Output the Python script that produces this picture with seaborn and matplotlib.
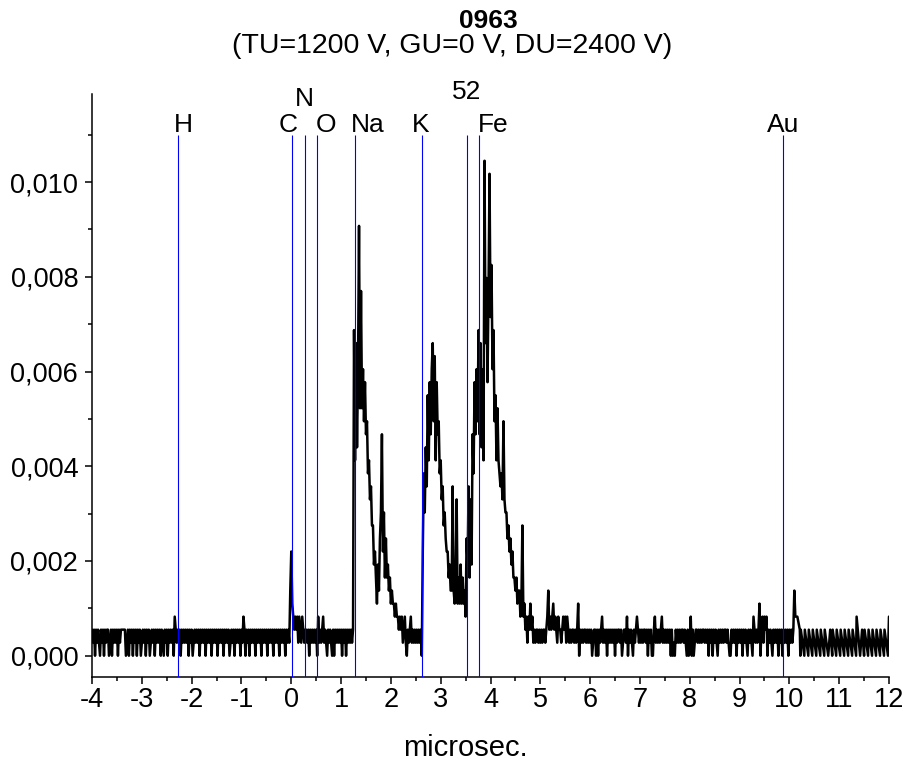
import numpy as np
import pandas as pd
import matplotlib
matplotlib.use("Agg")
import matplotlib.pyplot as plt
import seaborn as sns
from matplotlib.ticker import MultipleLocator, FuncFormatter

# ---- time-of-flight spectrum, sampled every 0.02 microseconds from -4.00 ----
T0 = -4.0
STEP = 0.02
COUNT = 0.000275          # intensity of one detector count

# flat region before the carbon line (digits = counts per bin)
pre_c = ("2120212102" "1202122012" "0212120212" "2222012021" "2021202120"
         "1212021201" "2120212120" "2102120212" "1203212120" "2121212021"
         "2012121202" "1212021212" "0212120212" "1202121201" "2120212120"
         "2132021202" "1212021212" "0212120212" "1202121202" "121202121")
c_peak = [5, 8, 4, 3, 2, 3, 2, 3, 1, 3, 2, 1, 3, 2, 1, 2]
c_to_na = "2120212121" "2031212312" "1021210202" "1212120212" "02121212"
na_peak = [25, 15, 24, 16, 22, 33, 19, 28, 19, 22,
           18, 21, 17, 18, 14, 15, 12, 13, 10, 10,
           7, 8, 6, 4, 7, 5, 9, 11, 17, 8,
           11, 6, 9, 6, 7, 5, 6, 4, 5, 4,
           4, 3, 4, 3, 3, 2, 3, 2, 3, 1,
           2, 3, 1, 0, 2, 1, 2, 3, 1, 2,
           1, 2, 1, 2, 1, 2, 1, 2, 0]
k_peak = [8, 14, 11, 16, 13, 20, 15, 21, 17, 22,
          24, 18, 23, 15, 21, 17, 18, 14, 15, 12,
          13, 10, 11, 9, 8, 8, 6, 7, 5, 5,
          13, 5, 4, 6, 12, 4, 6, 4, 7, 4,
          6, 4, 5, 3, 9, 7, 13]
fe_peak = [6, 12, 7, 17, 14, 21, 17, 22, 18, 25,
           17, 24, 16, 22, 15, 38, 24, 29, 21, 28,
           37, 26, 30, 22, 25, 18, 20, 15, 19, 15,
           14, 13, 14, 12, 18, 12, 11, 11, 9, 10,
           8, 9, 7, 8, 6, 6, 5, 6, 4, 5,
           5, 3, 4, 10, 3, 4, 2, 3, 1, 3,
           2, 4]
fe_tail = ("2312122121" "2122123523" "2342321322" "1232313212" "1221212402"
           "1212212121" "2012202021" "2312120212" "1212021221" "2012213021"
           "2102123212" "1212212021" "2002312121" "2312121212" "0201021212"
           "1221210201" "3020122121" "2122121202" "1202121021" "2121221210"
           "0212120212" "1202121021" "2103212124" "0231323021" "2102121202"
           "1202121202" "121253")

# last stretch after the gold line, recorded with uneven spacing
tail_t = [10.16, 10.21, 10.22, 10.23, 10.30, 10.31, 10.38, 10.39, 10.46, 10.47,
          10.54, 10.55, 10.62, 10.63, 10.70, 10.71, 10.78, 10.82, 10.86, 10.87,
          10.94, 10.95, 11.02, 11.03, 11.10, 11.11, 11.18, 11.19, 11.26, 11.27,
          11.34, 11.35, 11.42, 11.46, 11.50, 11.51, 11.58, 11.59, 11.66, 11.67,
          11.74, 11.75, 11.82, 11.83, 11.90, 11.91, 11.98, 12.00]
tail_counts = [3, 2, 0, 2, 0, 2, 0, 2, 0, 2,
               0, 2, 0, 2, 0, 2, 0, 2, 0, 2,
               0, 2, 0, 2, 0, 2, 0, 2, 0, 2,
               0, 3, 0, 2, 0, 2, 0, 2, 0, 2,
               0, 2, 0, 2, 0, 2, 0, 3]

# element marker lines (flight time, microseconds)
element_names = ["H", "C", "N", "O", "Na", "K", "52", "Fe", "Au"]
element_times = [-2.27, 0.02, 0.28, 0.52, 1.27, 2.62, 3.52, 3.77, 9.88]
element_label_x = [-2.17, -0.065, 0.257, 0.70, 1.54, 2.59, 3.53, 4.05, 9.87]
element_label_y = [0.01121, 0.01121, 0.01176, 0.01121, 0.01121, 0.01121,
                   0.01190, 0.01121, 0.01121]
marker_top = 0.011

x_ticks = list(range(-4, 13))
y_ticks = [0.000, 0.002, 0.004, 0.006, 0.008, 0.010]


def digits(s):
    return [int(c) for c in s]


uniform_counts = (digits(pre_c) + c_peak + digits(c_to_na) + na_peak
                  + k_peak + fe_peak + digits(fe_tail))
uniform_t = T0 + STEP * np.arange(len(uniform_counts))

spectrum = pd.DataFrame({
    "t": np.concatenate([uniform_t, tail_t]),
    "signal": np.array(uniform_counts + tail_counts) * COUNT,
})

sns.set_theme(style="ticks")
plt.rcParams["font.family"] = ["Liberation Sans", "DejaVu Sans"]
plt.rcParams["axes.unicode_minus"] = False
for key in ("text.color", "axes.labelcolor", "xtick.color", "ytick.color",
            "axes.edgecolor"):
    plt.rcParams[key] = "black"

fig = plt.figure(figsize=(9.05, 7.69), dpi=100)
ax = fig.add_axes([0.1017, 0.1196, 0.8806, 0.7582])

Y_MIN, Y_MAX = -0.00045, 0.01186

sns.lineplot(data=spectrum, x="t", y="signal", color="black", linewidth=1.8,
             estimator=None, sort=False, ax=ax)

ax.vlines(element_times, Y_MIN, marker_top, colors="#0000ff", linewidth=0.8,
          zorder=3)
for name, lx, ly in zip(element_names, element_label_x, element_label_y):
    ax.text(lx, ly, name, ha="center", va="center", fontsize=19,
            clip_on=False)

ax.set_xlim(-4, 12)
ax.set_ylim(Y_MIN, Y_MAX)
ax.set_xticks(x_ticks)
ax.set_yticks(y_ticks)
ax.xaxis.set_minor_locator(MultipleLocator(0.5))
ax.yaxis.set_minor_locator(MultipleLocator(0.001))
ax.yaxis.set_major_formatter(FuncFormatter(lambda v, _: f"{v:.3f}".replace(".", ",")))
ax.xaxis.set_major_formatter(FuncFormatter(lambda v, _: f"{int(round(v))}"))

ax.tick_params(axis="both", which="major", direction="out", length=5,
               width=1.1, labelsize=19.5)
ax.tick_params(axis="y", which="major", pad=5)
ax.tick_params(axis="x", which="major", pad=2)
ax.tick_params(axis="both", which="minor", direction="out", length=3,
               width=1.1)

for side in ("top", "right"):
    ax.spines[side].set_visible(False)
for side in ("left", "bottom"):
    ax.spines[side].set_linewidth(1.1)

ax.set_xlabel("microsec.", fontsize=21)
ax.xaxis.label.set_va("center")
ax.xaxis.set_label_coords(0.468, -0.121)
ax.set_ylabel("")

fig.text(488 / 905, 1 - 21 / 769, "0963", ha="center", va="center",
         fontsize=19, fontweight="bold")
fig.text(452 / 905, 1 - 46 / 769, "(TU=1200 V, GU=0 V, DU=2400 V)",
         ha="center", va="center", fontsize=20.5)

fig.savefig("out.png", dpi=100, facecolor="white")
